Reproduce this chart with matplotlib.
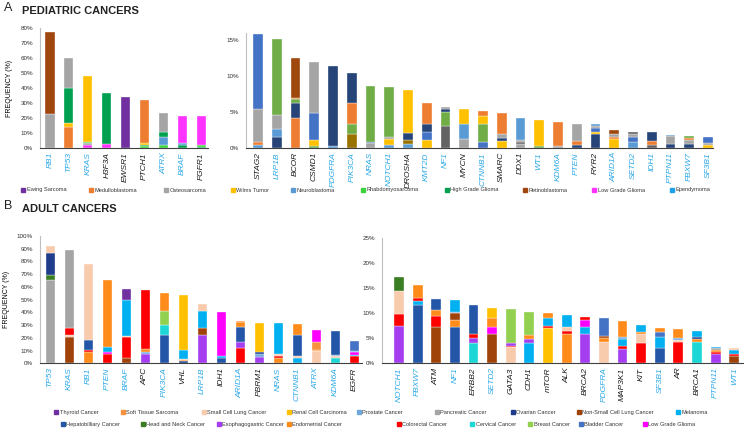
import matplotlib
matplotlib.use('Agg')
import matplotlib.pyplot as plt
from matplotlib.patches import Rectangle
from matplotlib import font_manager

W, H = 744, 436
names = {f.name for f in font_manager.fontManager.ttflist}
MAIN = 'Liberation Sans'
NARROW = 'Liberation Sans Narrow' if 'Liberation Sans Narrow' in names else 'Liberation Sans'
plt.rcParams['font.family'] = [MAIN, 'DejaVu Sans']

# ---------------- DATA ----------------
ped_colors = {
    'ES': '#7030A0', 'MB': '#ED7D31', 'OS': '#A5A5A5', 'WT': '#FFC000', 'NB': '#5B9BD5',
    'RMS': '#3CD23C', 'HGG': '#00A050', 'RB': '#A0470F', 'LGG': '#FF33FF', 'EP': '#1EA0E6',
    # additional shades used in the right pediatric panel
    'blue': '#4472C4', 'orange': '#ED7D31', 'gray': '#A5A5A5', 'gold': '#FFC000',
    'lblue': '#5B9BD5', 'green': '#70AD47', 'navy': '#264478', 'brown': '#9E480E',
    'dgray': '#636363', 'dgold': '#997300',
}
ped_legend_keys = ['ES', 'MB', 'OS', 'WT', 'NB', 'RMS', 'HGG', 'RB', 'LGG', 'EP']
ped_legend_labels = ['Ewing Sarcoma', 'Medulloblastoma', 'Osteosarcoma', 'Wilms Tumor',
                     'Neuroblastoma', 'Rhabdomyosarcoma', 'High Grade Glioma',
                     'Retinoblastoma', 'Low Grade Glioma', 'Ependymoma']

ped_left_genes = ['RB1', 'TP53', 'KRAS', 'H3F3A', 'EWSR1', 'PTCH1', 'ATRX', 'BRAF', 'FGFR1']
ped_left_segments = [
    [('OS', 22.9), ('RB', 54.4)],
    [('MB', 13.8), ('WT', 2.9), ('HGG', 23.3), ('OS', 19.8)],
    [('LGG', 2.2), ('OS', 1.1), ('RMS', 0.5), ('WT', 44.0)],
    [('LGG', 2.9), ('HGG', 33.5)],
    [('ES', 34.2)],
    [('RMS', 1.1), ('HGG', 1.1), ('WT', 1.1), ('MB', 28.9)],
    [('RMS', 1.8), ('NB', 5.5), ('HGG', 3.1), ('OS', 12.9)],
    [('HGG', 2.2), ('NB', 1.1), ('LGG', 18.2)],
    [('HGG', 0.7), ('RMS', 1.1), ('LGG', 19.2)],
]
ped_left_blue = {'RB1', 'TP53', 'KRAS', 'ATRX', 'BRAF'}

ped_right_genes = ['STAG2', 'LRP1B', 'BCOR', 'CSMD1', 'PDGFRA', 'PIK3CA', 'NRAS', 'NOTCH1',
                   'DROSHA', 'KMT2D', 'NF1', 'MYCN', 'CTNNB1', 'SMARC', 'DDX1', 'WT1',
                   'KDM6A', 'PTEN', 'RYR2', 'ARID1A', 'SETD2', 'IDH1', 'PTPN11', 'FBXW7', 'SF3B1']
ped_right_segments = [
    [('lblue', 0.46), ('orange', 0.34), ('gray', 4.55), ('blue', 10.45)],
    [('navy', 1.53), ('lblue', 1.12), ('gray', 1.9), ('green', 10.65)],
    [('orange', 4.1), ('navy', 2.17), ('green', 0.53), ('orange', 0.1), ('brown', 5.6)],
    [('green', 0.23), ('gold', 0.84), ('blue', 3.73), ('gray', 7.2)],
    [('lblue', 0.33), ('navy', 11.07)],
    [('dgold', 1.95), ('green', 1.45), ('orange', 2.8), ('navy', 4.25)],
    [('gray', 0.7), ('blue', 0.2), ('green', 7.7)],
    [('lblue', 0.46), ('gold', 0.79), ('gray', 0.28), ('green', 6.92)],
    [('lblue', 0.56), ('dgold', 0.51), ('navy', 1.03), ('gold', 5.9)],
    [('gold', 1.16), ('blue', 1.07), ('navy', 1.12), ('orange', 2.85)],
    [('dgray', 3.0), ('green', 2.0), ('navy', 0.35), ('gray', 0.3)],
    [('gray', 1.25), ('lblue', 2.1), ('gold', 2.0)],
    [('blue', 0.8), ('green', 2.55), ('gold', 1.05), ('orange', 0.8)],
    [('gold', 0.93), ('navy', 0.47), ('gray', 0.55), ('orange', 2.93)],
    [('gray', 0.6), ('dgray', 0.2), ('gray', 0.27), ('lblue', 3.03)],
    [('green', 0.23), ('gold', 3.72)],
    [('gray', 0.33), ('orange', 3.27)],
    [('navy', 0.46), ('orange', 0.47), ('gray', 2.47)],
    [('navy', 1.95), ('gold', 0.33), ('blue', 0.52), ('gray', 0.3), ('lblue', 0.25)],
    [('gold', 1.3), ('orange', 0.2), ('gray', 0.5), ('brown', 0.55)],
    [('lblue', 0.84), ('blue', 0.69), ('gray', 0.42), ('dgray', 0.28)],
    [('dgray', 0.46), ('orange', 0.47), ('navy', 1.25)],
    [('navy', 0.6), ('gray', 1.03), ('lblue', 0.13)],
    [('navy', 0.6), ('gray', 0.56), ('orange', 0.24), ('green', 0.27)],
    [('gold', 0.46), ('gray', 0.24), ('blue', 0.83)],
]
ped_right_blue = {'LRP1B', 'PDGFRA', 'PIK3CA', 'NRAS', 'NOTCH1', 'KMT2D', 'NF1', 'CTNNB1',
                  'WT1', 'KDM6A', 'PTEN', 'ARID1A', 'SETD2', 'IDH1', 'PTPN11', 'FBXW7', 'SF3B1'}

adult_colors = {
    'TH': '#7030A0', 'STS': '#F7913D', 'SCLC': '#F8CBAD', 'RCC': '#FFC000', 'PR': '#6FA8DC',
    'PA': '#A5A5A5', 'OV': '#1F3D8C', 'NSCLC': '#A0430A', 'ME': '#00B0F0', 'HB': '#2456A8',
    'HN': '#3A7D22', 'EG': '#A53DF0', 'EN': '#FF8C1A', 'CRC': '#FF0000', 'CV': '#1DD6D6',
    'BR': '#92D050', 'BL': '#4472C4', 'LGG': '#FF00FF',
}
adult_legend_row1 = ['TH', 'STS', 'SCLC', 'RCC', 'PR', 'PA', 'OV', 'NSCLC', 'ME']
adult_legend_row1_labels = ['Thyroid Cancer', 'Soft Tissue Sarcoma', 'Small Cell Lung Cancer',
                            'Renal Cell Carcinoma', 'Prostate Cancer', 'Pancreatic Cancer',
                            'Ovarian Cancer', 'Non-Small Cell Lung Cancer', 'Melanoma']
adult_legend_row2 = ['HB', 'HN', 'EG', 'EN', 'CRC', 'CV', 'BR', 'BL', 'LGG']
adult_legend_row2_labels = ['Hepatobilliary Cancer', 'Head and Neck Cancer',
                            'Esophagogastric Cancer', 'Endometrial Cancer', 'Colorectal Cancer',
                            'Cervical Cancer', 'Breast Cancer', 'Bladder Cancer',
                            'Low Grade Glioma']

adult_left_genes = ['TP53', 'KRAS', 'RB1', 'PTEN', 'BRAF', 'APC', 'PIK3CA', 'VHL', 'LRP1B',
                    'IDH1', 'ARID1A', 'PBRM1', 'NRAS', 'CTNNB1', 'ATRX', 'KDM6A', 'EGFR']
adult_left_segments = [
    [('PA', 65.8), ('HN', 3.9), ('OV', 17.3), ('SCLC', 5.2)],
    [('NSCLC', 20.9), ('SCLC', 1.3), ('CRC', 5.7), ('PA', 60.9)],
    [('EN', 9.1), ('CRC', 1.0), ('HB', 8.5), ('SCLC', 59.2)],
    [('CRC', 7.3), ('LGG', 1.8), ('ME', 3.4), ('EN', 52.8)],
    [('NSCLC', 3.9), ('CRC', 17.0), ('SCLC', 0.5), ('ME', 28.7), ('TH', 7.9)],
    [('EG', 7.0), ('PR', 2.1), ('EN', 2.1), ('CRC', 46.2)],
    [('HB', 22.2), ('CV', 7.8), ('BR', 11.3), ('EN', 14.1)],
    [('OV', 1.8), ('EN', 0.8), ('SCLC', 0.8), ('ME', 7.0), ('RCC', 43.1)],
    [('EG', 22.2), ('NSCLC', 5.7), ('ME', 13.1), ('SCLC', 5.5)],
    [('HB', 3.9), ('ME', 1.8), ('LGG', 34.8)],
    [('CRC', 11.7), ('EG', 5.3), ('HB', 11.2), ('EN', 3.9), ('STS', 1.3)],
    [('EG', 4.7), ('PR', 2.6), ('OV', 1.3), ('RCC', 23.4)],
    [('EN', 4.0), ('CRC', 1.5), ('SCLC', 2.0), ('ME', 24.0)],
    [('ME', 4.5), ('SCLC', 1.0), ('HB', 16.5), ('EN', 8.5)],
    [('SCLC', 9.5), ('EN', 1.0), ('STS', 6.0), ('LGG', 9.5)],
    [('CV', 4.5), ('SCLC', 1.0), ('PR', 1.0), ('HB', 18.5)],
    [('CRC', 5.5), ('ME', 1.0), ('LGG', 2.5), ('PR', 1.0), ('BL', 7.5)],
]
adult_left_blue = {'TP53', 'KRAS', 'RB1', 'PTEN', 'BRAF', 'PIK3CA', 'LRP1B', 'ARID1A',
                   'NRAS', 'CTNNB1', 'ATRX', 'KDM6A'}

adult_right_genes = ['NOTCH1', 'FBXW7', 'ATM', 'NF1', 'ERBB2', 'SETD2', 'GATA3', 'CDH1', 'mTOR',
                     'ALK', 'BRCA2', 'PDGFRA', 'MAP3K1', 'KIT', 'SF3B1', 'AR', 'BRCA1',
                     'PTPN11', 'WT1']
adult_right_segments = [
    [('EG', 7.5), ('CRC', 2.4), ('SCLC', 4.5), ('HN', 2.8)],
    [('HB', 11.7), ('ME', 0.8), ('CRC', 0.5), ('EN', 2.7)],
    [('NSCLC', 7.2), ('CRC', 2.2), ('EN', 1.2), ('HB', 2.2)],
    [('HB', 7.2), ('EN', 1.4), ('NSCLC', 1.4), ('PR', 0.2), ('ME', 2.5)],
    [('CV', 4.0), ('EG', 1.0), ('CRC', 0.9), ('HB', 5.7)],
    [('NSCLC', 5.9), ('LGG', 1.3), ('EN', 1.9), ('RCC', 2.0)],
    [('SCLC', 3.2), ('CRC', 0.3), ('EG', 0.5), ('BR', 6.8)],
    [('ME', 4.0), ('EG', 0.9), ('EN', 0.8), ('BR', 4.6)],
    [('RCC', 7.1), ('CRC', 0.4), ('ME', 1.6), ('EN', 1.0)],
    [('EN', 5.9), ('CRC', 0.6), ('SCLC', 0.8), ('ME', 2.3)],
    [('EG', 5.9), ('ME', 1.3), ('LGG', 1.4), ('CRC', 0.7)],
    [('SCLC', 4.2), ('EN', 0.8), ('NSCLC', 0.5), ('BL', 3.6)],
    [('EG', 2.8), ('CRC', 0.6), ('ME', 1.5), ('PR', 0.3), ('EN', 3.2)],
    [('CRC', 4.1), ('SCLC', 1.7), ('EN', 0.5), ('ME', 1.3)],
    [('HB', 3.0), ('ME', 2.3), ('BL', 1.0), ('EN', 0.7)],
    [('CRC', 4.2), ('SCLC', 0.4), ('PR', 0.5), ('EN', 1.7)],
    [('CV', 4.3), ('EN', 0.6), ('OV', 0.4), ('ME', 1.2)],
    [('EG', 1.8), ('CRC', 0.4), ('EN', 0.5), ('PA', 0.3), ('ME', 0.3)],
    [('NSCLC', 1.4), ('CRC', 0.4), ('ME', 0.8), ('SCLC', 0.4)],
]
adult_right_blue = {'NOTCH1', 'FBXW7', 'NF1', 'SETD2', 'PDGFRA', 'SF3B1', 'PTPN11', 'WT1'}

# ---------------- DRAWING ----------------
fig = plt.figure(figsize=(W / 100, H / 100), dpi=100)
BLUE_LBL = '#2AA8E8'


def px_axes(x0, x1, ytop, ybot):
    return fig.add_axes([x0 / W, 1 - ybot / H, (x1 - x0) / W, (ybot - ytop) / H])


def draw_panel(ax, genes, segments, colors, blue_set, ylim, yticks, xlim, width=0.5):
    for i, segs in enumerate(segments):
        bottom = 0.0
        for key, h in segs:
            ax.bar(i, h, bottom=bottom, width=width, color=colors[key],
                   edgecolor='white', linewidth=0.25)
            bottom += h
    ax.set_xlim(*xlim)
    ax.set_ylim(*ylim)
    ax.set_yticks(yticks)
    ax.set_yticklabels([f'{t}%' for t in yticks], fontsize=4.5, color='#333333')
    ax.set_xticks(range(len(genes)))
    ax.set_xticklabels(genes, rotation=90, fontsize=6, style='italic')
    for lbl, g in zip(ax.get_xticklabels(), genes):
        lbl.set_color(BLUE_LBL if g in blue_set else '#1a1a1a')
    ax.tick_params(axis='both', length=0)
    ax.tick_params(axis='y', pad=5)
    ax.tick_params(axis='x', pad=3)
    for s in ('top', 'right'):
        ax.spines[s].set_visible(False)
    ax.spines['left'].set_color('#BFBFBF')
    ax.spines['left'].set_linewidth(0.8)
    ax.spines['bottom'].set_color('#404040')
    ax.spines['bottom'].set_linewidth(0.8)
    ax.set_facecolor('none')


# Panel A
axA1 = px_axes(40, 208, 28, 148)
draw_panel(axA1, ped_left_genes, ped_left_segments, ped_colors, ped_left_blue,
           (0, 80), list(range(0, 81, 10)), (-0.53, 8.35), width=0.48)
axA1.set_ylabel('FREQUENCY (%)', fontsize=5, labelpad=5)

axA2 = px_axes(246, 713, 32.8, 148)
draw_panel(axA2, ped_right_genes, ped_right_segments, ped_colors, ped_right_blue,
           (0, 16), [0, 5, 10, 15], (-0.64, 24.27), width=0.52)

# Panel B
axB1 = px_axes(40, 362, 236, 363.3)
draw_panel(axB1, adult_left_genes, adult_left_segments, adult_colors, adult_left_blue,
           (0, 100), list(range(0, 101, 10)), (-0.53, 16.4), width=0.48)
axB1.set_ylabel('FREQUENCY (%)', fontsize=5, labelpad=5)

axB2 = px_axes(382, 744, 238.3, 363.3)
draw_panel(axB2, adult_right_genes, adult_right_segments, adult_colors, adult_right_blue,
           (0, 25), [0, 5, 10, 15, 20, 25], (-0.91, 18.52), width=0.53)

# Titles
fig.text(4 / W, 1 - 8 / H, 'A', fontsize=9, va='center', ha='left', color='#222222')
fig.text(22 / W, 1 - 11 / H, 'PEDIATRIC CANCERS', fontsize=8, fontweight='bold',
         va='center', ha='left', color='#222222')
fig.text(4 / W, 1 - 206 / H, 'B', fontsize=9, va='center', ha='left', color='#222222')
fig.text(22 / W, 1 - 209 / H, 'ADULT CANCERS', fontsize=8, fontweight='bold',
         va='center', ha='left', color='#222222')


def legend_item(x, y, color, label):
    s = 4
    fig.patches.append(Rectangle((x / W, 1 - (y + s / 2) / H), s / W, s / H,
                                 transform=fig.transFigure, color=color, figure=fig))
    fig.text((x + 5.5) / W, 1 - y / H, label, fontsize=4.1, va='center', ha='left',
             family=[NARROW, 'DejaVu Sans'], color='#333333')


ped_legend_x = [21, 89, 164, 231, 291, 361, 445, 523, 592, 670]
for x, k, lab in zip(ped_legend_x, ped_legend_keys, ped_legend_labels):
    legend_item(x, 190, ped_colors[k], lab)

row1_x = [54, 121, 202, 287, 357, 435, 511, 577, 676]
row2_x = [61, 141, 217, 287, 397, 470, 528, 579, 643]
for x, k, lab in zip(row1_x, adult_legend_row1, adult_legend_row1_labels):
    legend_item(x, 412, adult_colors[k], lab)
for x, k, lab in zip(row2_x, adult_legend_row2, adult_legend_row2_labels):
    legend_item(x, 424, adult_colors[k], lab)

fig.savefig('out.png', dpi=100)
